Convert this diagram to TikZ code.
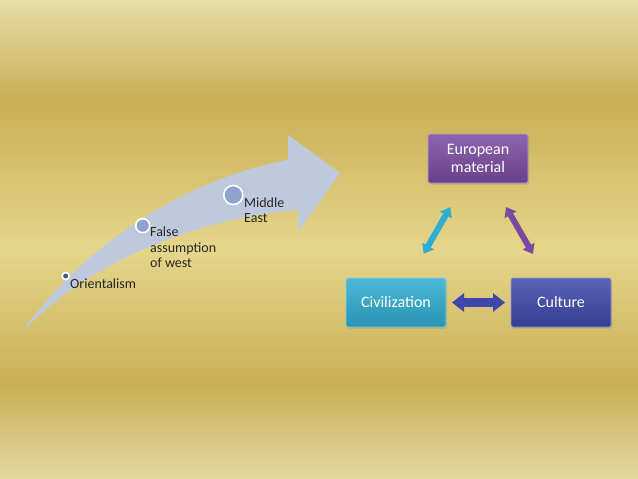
\documentclass[tikz,border=0pt]{standalone}
\usepackage{fontspec}
\setmainfont{Carlito}
\usetikzlibrary{arrows.meta}
\usetikzlibrary{shadows}
\definecolor{bgtop}{HTML}{E6DDA8}
\definecolor{bgdark}{HTML}{C9AE55}
\definecolor{bglight}{HTML}{E5D68B}
\definecolor{bgbot}{HTML}{E3D9A3}
\definecolor{sweepcol}{HTML}{BFC9DD}
\definecolor{dotdark}{HTML}{365C8C}
\definecolor{dotmid}{HTML}{8EA3CB}
\definecolor{eurcol}{HTML}{7A4AA0}
\definecolor{civcol}{HTML}{2EADD0}
\definecolor{culcol}{HTML}{3D48AA}
\pgfdeclareverticalshading{goldbg}{100bp}{color(0bp)=(bgbot); color(25bp)=(bgbot);
    color(34.8bp)=(bgdark); color(48.9bp)=(bglight); color(64.6bp)=(bgdark);
    color(75bp)=(bgtop); color(100bp)=(bgtop)}
\tikzset{
    sweep/.style={fill=sweepcol},
    dot/.style={
        circle,
        inner sep=0pt,
        draw=white,
        line width=1.6pt,
        fill=#1},
    tag/.style={
        anchor=north west,
        inner sep=0pt,
        align=left,
        text=black!85,
        font=\fontsize{14}{15.5}\selectfont},
    box/.style={
        rectangle,
        rounded corners=2pt,
        minimum width=100pt,
        minimum height=49pt,
        align=center,
        text=white,
        font=\fontsize{16}{18}\selectfont,
        draw=#1!55!white,
        line width=0.8pt,
        top color=#1!85!white,
        bottom color=#1!85!black,
        drop shadow={shadow xshift=1pt, shadow yshift=-1.5pt, opacity=0.35}},
    link/.style={
        draw=#1,
        line width=6pt,
        {Triangle[length=9pt,width=13pt]}-{Triangle[length=9pt,width=13pt]},
        shorten <=56pt,
        shorten >=56pt}}

\begin{document}
\begin{tikzpicture}[x=1pt,y=-1pt]
        \shade[shading=goldbg] (0,0) rectangle (638,479);

        \fill[sweep] (22,332) .. controls (80,250) and (180,180) .. (288,160) -- (288,135)
            -- (340,173) -- (298,232) -- (298,210) .. controls (200,218) and (90,260) .. (22,332) -- cycle;

        \node[dot=dotdark, minimum size=7pt] (d1) at (65.7,276) {};
        \node[dot=dotmid, minimum size=14pt] (d2) at (142.7,225.7) {};
        \node[dot=dotmid, minimum size=19pt] (d3) at (233.3,195) {};

        \node[tag] (t1) at (70,278.3) {Orientalism};
        \node[tag] (t2) at (150,227) {False\\assumption\\of west};
        \node[tag] (t3) at (244,197.5) {Middle\\East};

        \node[box=eurcol] (eur) at (478,158.5) {European\\material};
        \node[box=civcol] (civ) at (396,302.5) {Civilization};
        \node[box=culcol] (cul) at (561,302.5) {Culture};

        \draw[link=civcol] (civ.center) -- (eur.center);
        \draw[link=eurcol] (eur.center) -- (cul.center);
        \draw[link=culcol, line width=9pt, {Triangle[length=12pt,width=18pt]}-{Triangle[length=12pt,width=18pt]}]
            (civ.center) -- (cul.center);
    \end{tikzpicture}
\end{document}
